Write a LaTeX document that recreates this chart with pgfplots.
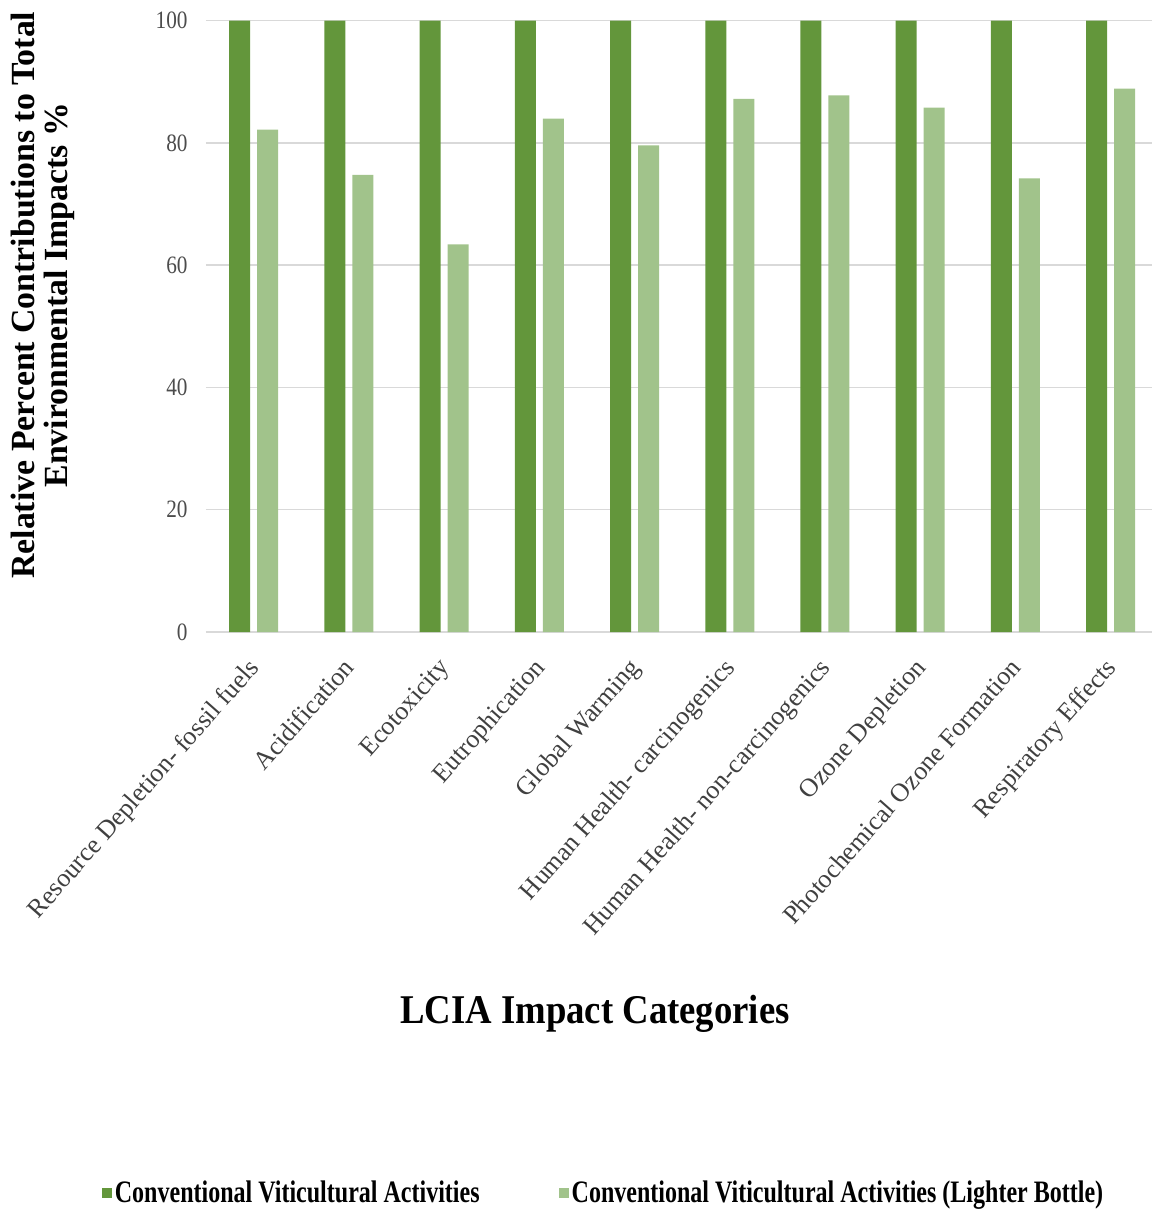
\documentclass[border=0pt]{standalone}
\usepackage{fontspec}
\setmainfont{Liberation Serif}
\newfontfamily\numfont[FakeStretch=0.85]{Liberation Serif}
\newfontfamily\legfont[FakeStretch=0.77]{Liberation Serif}
\newfontfamily\titlefont[FakeStretch=0.9]{Liberation Serif}
\usepackage{pgfplots}
\pgfplotsset{compat=1.18}
\definecolor{darkg}{RGB}{99,150,59}
\definecolor{lightg}{RGB}{161,195,139}
\definecolor{gridg}{RGB}{217,217,217}
\pgfplotsset{sqleg/.style={legend image code/.code={\fill[##1] (0pt,-2.5pt) rectangle (5pt,2.5pt);}}}
\begin{document}
\begin{tikzpicture}
\useasboundingbox (-103pt,-289.5pt) rectangle (473pt,316pt);
\begin{axis}[
  at={(0pt,0pt)}, anchor=south west,
  scale only axis, width=476.15pt, height=305.65pt,
  xmin=-0.5, xmax=9.5, ymin=0, ymax=100,
  ybar,
  axis x line*=bottom, axis y line*=left,
  x axis line style={draw=gridg, line width=0.75pt, -},
  y axis line style={draw=none},
  major tick length=0pt,
  tick style={draw=none},
  ymajorgrids, grid style={draw=gridg, line width=0.75pt},
  ytick={0,20,40,60,80,100},
  xtick={0,1,2,3,4,5,6,7,8,9},
  xticklabels={Resource Depletion- fossil fuels,Acidification,Ecotoxicity,Eutrophication,Global Warming,Human Health- carcinogenics,Human Health- non-carcinogenics,Ozone Depletion,Photochemical Ozone Formation,Respiratory Effects},
  /pgf/number format/assume math mode=true,
  yticklabel style={font=\fontsize{12.5}{13}\numfont, text=black!70, inner sep=0pt, anchor=east, xshift=-9pt},
  xticklabel style={font=\fontsize{13}{14}\selectfont, text=black!75, inner sep=0pt, xshift=-3.5pt, yshift=-12pt, rotate=48.5, anchor=north east},
  xlabel={LCIA Impact Categories},
  xlabel style={at={(axis description cs:0.4085,-0.6396)}, anchor=base, font=\fontsize{20.4}{22}\titlefont\bfseries},
  ylabel={Relative Percent Contributions to Total\\Environmental Impacts \%},
  ylabel style={at={(axis description cs:-0.171,0.551)}, anchor=center, align=center, font=\fontsize{16.9}{16.5}\selectfont\bfseries},
  legend style={at={(0.418,-0.918)}, anchor=center, draw=none, fill=none, legend columns=2,
    font=\fontsize{15.6}{16}\legfont\bfseries,
    /tikz/every even column/.append style={column sep=38pt},
    nodes={inner sep=1.5pt}},
  legend cell align=left,
]
\addplot[fill=darkg, draw=none, bar width=10.5pt, bar shift=-7pt, sqleg] coordinates {
(0,100) (1,100) (2,100) (3,100) (4,100) (5,100) (6,100) (7,100) (8,100) (9,100)};
\addplot[fill=lightg, draw=none, bar width=10.5pt, bar shift=7pt, sqleg] coordinates {
(0,82.2) (1,74.8) (2,63.4) (3,84.0) (4,79.6) (5,87.2) (6,87.8) (7,85.8) (8,74.2) (9,88.9)};
\legend{Conventional Viticultural Activities,Conventional Viticultural Activities (Lighter Bottle)}
\end{axis}
\end{tikzpicture}
\end{document}
